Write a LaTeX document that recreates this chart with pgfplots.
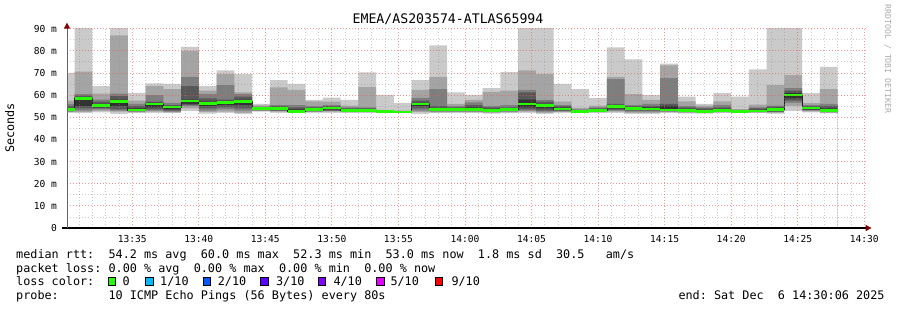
\documentclass[border=0pt]{standalone}
\usepackage{fontspec}
\setmainfont{DejaVu Sans Mono}
\usepackage{pgfplots}
\usepackage{pgfplotstable}
\pgfplotsset{compat=1.18}
\usetikzlibrary{arrows.meta}
\definecolor{c1}{HTML}{CACACA}
\definecolor{c2}{HTML}{A4A4A4}
\definecolor{c3}{HTML}{7E7E7E}
\definecolor{c4}{HTML}{585858}
\definecolor{c5}{HTML}{323232}
\definecolor{medline}{HTML}{202020}
\definecolor{yaxis}{HTML}{646464}
\definecolor{lc0}{HTML}{26FF00}
\definecolor{lc1}{HTML}{00B8FF}
\definecolor{lc2}{HTML}{0059FF}
\definecolor{lc3}{HTML}{5E00FF}
\definecolor{lc4}{HTML}{7E00FF}
\definecolor{lc5}{HTML}{DD00FF}
\definecolor{lc9}{HTML}{FF0000}
\definecolor{arrowred}{HTML}{7F0000}
\definecolor{gridgray}{HTML}{8F8F8F}
\definecolor{gridred}{HTML}{E25959}
\definecolor{wm}{HTML}{AAAAAA}
\newcommand\lf{\fontsize{11.8}{13}\selectfont}

\pgfplotstableread{
x      p1   p2   p3   p4   p5   p6   p7   p8   p9   p10  med
0.1    52   52.3 52.5 52.8 53   54   55   56   57.5 70   53.5
0.667  51.8 52.3 53   54   55   59   59.7 60.4 70.6 95   58.5
2.0    52.2 52.8 53.5 54   54.5 56   57   58   60.7 64   55.2
3.333  51.5 52.5 53   53.5 55   58   59.5 60.7 87   95   57
4.667  51.8 52.2 52.5 52.8 53   54   55   56   57.5 61   53.3
6.0    52   52.5 53   53.5 54.5 56.5 57   60   64   65.3 56
7.333  51.8 52.2 52.5 53   53.5 55   55.5 56.5 62.7 65   54.6
8.667  52.8 54   55   55.5 56   58   64   68.2 80   81.7 57.3
10.0   51.6 52.3 53   54   55   57   58.5 60.4 62   64   56.3
11.333 52   52.5 53.5 54.5 55.5 57   58   64.5 69.4 71.2 56.6
12.667 51.5 52   53   54   55.5 58   59.3 60.4 61.2 69.5 57
14.0   52.5 52.8 53   53.2 53.5 54.2 54.5 54.8 55.3 56   54
15.333 52   52.5 52.8 53   53.5 54.5 55   55.5 63.5 66.7 54
16.667 51.8 52   52.2 52.3 52.5 53.5 54.5 55.5 62.4 65   52.6
18.0   52   52.3 52.5 52.8 53   54   54.5 55   57.2 57.8 53.5
19.333 52   52.5 52.7 53   53.5 54.6 55   55.5 57   58.8 54.2
20.667 52   52.2 52.4 52.6 52.8 53.5 54   54.5 55.2 57.8 53.1
22.0   52   52.2 52.4 52.6 52.8 53.5 54   54.5 63.6 70.2 53
23.333 52   52.1 52.2 52.3 52.4 52.7 52.8 53   53.3 60.1 52.5
24.667 51.9 52   52.1 52.2 52.3 52.6 52.7 52.8 53   56.4 52.4
26.0   51.5 52.3 53   54   55   56.5 57.5 58.7 62.4 66.7 56
27.333 51.8 52.2 52.5 52.8 53   54   55   62.7 68.2 82.4 53.4
28.667 52   52.2 52.5 52.8 53   54   54.5 55   56   61.2 53.4
30.0   52   52.2 52.5 52.8 53   54.5 55.5 56.7 57.8 60.1 53.5
31.333 51.6 52   52.4 52.6 52.8 53.8 54.5 55   61.5 63.1 53
32.667 51.8 52.2 52.5 52.8 53   54   54.5 55.5 62   70.4 53.4
34.0   52   52.5 53   53.5 54.5 58   61.2 62.2 71.2 95   56
35.333 51.5 52   52.5 53   54   56   57   57.8 69.4 95   55.2
36.667 52   52.3 52.6 52.9 53.2 54.3 55   55.5 57   65   53.7
38.0   52   52.1 52.2 52.3 52.4 52.9 53.2 53.5 54.2 62.7 52.5
39.333 52   52.2 52.4 52.6 52.8 53.5 54   54.5 55.2 58.7 53
40.667 52   52.5 53   53.3 54   55.5 56   67.2 68.2 81.5 54.9
42.0   51.5 52   52.5 53   53.5 54.5 55   55.5 60.4 76.1 54
43.333 51.5 52   52.5 53   53.3 54.5 55   56   57.8 60   53.8
44.667 52   52.2 52.5 52.8 53   55   56   67.6 73.4 74.2 53.3
46.0   51.7 52   52.3 52.5 52.8 53.8 54.5 55   57.2 59.3 53.1
47.333 51.6 52   52.1 52.2 52.3 53.2 54   54.5 55.2 56   52.5
48.667 51.8 52.2 52.4 52.6 52.8 53.8 54.5 55.5 57.2 60.9 53.1
50.0   51.8 52.1 52.2 52.3 52.4 52.8 53   53.3 53.7 59.3 52.5
51.333 52   52.1 52.2 52.3 52.5 53.3 54   54.5 55.7 71.6 52.8
52.667 51.6 52   52.3 52.5 53   54.2 54.8 55.2 64.5 95   53.6
54.0   52.7 55   56.5 57.5 58.5 61   62   63.1 69   95   60
55.333 52.2 52.6 53   53.2 53.5 54.6 55   55.5 56.4 60.9 54.2
56.667 51.7 52   52.3 52.5 52.8 54   55   56   62.7 72.7 53.1
58.0   51.7 52   52.3 52.5 52.8 54   55   56   62.7 72.7 53.1
}\smoke

\begin{document}
\begin{tikzpicture}
\path[use as bounding box] (0,0) rectangle (897pt,-310pt);
\begin{axis}[
  at={(67pt,-228pt)}, anchor=south west,
  scale only axis, width=798.6pt, height=199.4pt,
  xmin=0.1, xmax=60.1, ymin=0, ymax=90,
  axis on top=true,
  no markers,
  axis x line=bottom, axis y line=left,
  x axis line style={draw=black, line width=1.1pt, shorten <=-5pt, shorten >=-6pt,
    -{Triangle[length=6pt,width=6pt,color=arrowred,fill=arrowred]}},
  y axis line style={draw=yaxis, line width=0.9pt, shorten >=-6pt,
    -{Triangle[length=6pt,width=6pt,color=arrowred,fill=arrowred]}},
  tick style={draw=none},
  xtick={5,10,...,60},
  xticklabels={13:35,13:40,13:45,13:50,13:55,14:00,14:05,14:10,14:15,14:20,14:25,14:30},
  minor xtick={1,2,3,4,6,7,8,9,11,12,13,14,16,17,18,19,21,22,23,24,26,27,28,29,31,32,33,34,36,37,38,39,41,42,43,44,46,47,48,49,51,52,53,54,56,57,58,59},
  ytick={0,10,...,90},
  yticklabels={0,10 m,20 m,30 m,40 m,50 m,60 m,70 m,80 m,90 m},
  minor ytick={5,15,...,85},
  grid=both,
  major grid style={draw=gridred, opacity=0.6, line width=0.8pt, dash pattern=on 1pt off 2pt},
  minor grid style={draw=gridgray, opacity=0.45, line width=0.8pt, dash pattern=on 1pt off 2pt},
  tick label style={font=\fontsize{9.6}{10}\selectfont, inner sep=0pt},
  x tick label style={anchor=base, yshift=-12.7pt},
  y tick label style={anchor=east, xshift=-7.7pt},
]
\addplot[const plot, fill=c1, draw=none] table[x=x,y=p10]{\smoke} \closedcycle;
\addplot[const plot, fill=c2, draw=none] table[x=x,y=p9]{\smoke} \closedcycle;
\addplot[const plot, fill=c3, draw=none] table[x=x,y=p8]{\smoke} \closedcycle;
\addplot[const plot, fill=c4, draw=none] table[x=x,y=p7]{\smoke} \closedcycle;
\addplot[const plot, fill=c5, draw=none] table[x=x,y=p6]{\smoke} \closedcycle;
\addplot[const plot, fill=c4, draw=none] table[x=x,y=p5]{\smoke} \closedcycle;
\addplot[const plot, fill=c3, draw=none] table[x=x,y=p4]{\smoke} \closedcycle;
\addplot[const plot, fill=c2, draw=none] table[x=x,y=p3]{\smoke} \closedcycle;
\addplot[const plot, fill=c1, draw=none] table[x=x,y=p2]{\smoke} \closedcycle;
\addplot[const plot, fill=white, draw=none] table[x=x,y=p1]{\smoke} \closedcycle;
\addplot[const plot, draw=medline, line width=0.8pt] table[x=x,y=med]{\smoke};
\addplot[jump mark left, draw=lc0, line width=2.6pt] table[x=x,y=med]{\smoke};
\end{axis}
\node[anchor=base, inner sep=0] at (448pt,-24pt) {\fontsize{13.2}{14}\selectfont EMEA/AS203574-ATLAS65994};
\node[rotate=90, anchor=base, inner sep=0] at (14pt,-128pt) {\lf Seconds};
\node[rotate=-90, anchor=base, inner sep=0, text=wm] at (885pt,-59pt) {\fontsize{8.2}{9}\selectfont RRDTOOL~/~TOBI~OETIKER};
\node[anchor=base west, inner sep=0] at (16pt,-258.3pt) {\lf median~rtt:~~54.2~ms~avg~~60.0~ms~max~~52.3~ms~min~~53.0~ms~now~~1.8~ms~sd~~30.5~~~am/s};
\node[anchor=base west, inner sep=0] at (16pt,-272pt) {\lf packet~loss:~0.00~\%~avg~~0.00~\%~max~~0.00~\%~min~~0.00~\%~now};
\node[anchor=base west, inner sep=0] at (16pt,-285.7pt) {\lf loss~color:};
\node[anchor=base west, inner sep=0] at (16pt,-299.7pt) {\lf probe:~~~~~~~10~ICMP~Echo~Pings~(56~Bytes)~every~80s};
\node[anchor=base west, inner sep=0] at (678.3pt,-299.7pt) {\lf end:~Sat~Dec~~6~14:30:06~2025};
\draw[fill=lc0, line width=0.6pt] (108.3pt,-285.7pt) rectangle (115.7pt,-277.7pt);
\draw[fill=lc1, line width=0.6pt] (145.7pt,-285.7pt) rectangle (153.1pt,-277.7pt);
\draw[fill=lc2, line width=0.6pt] (203.3pt,-285.7pt) rectangle (210.7pt,-277.7pt);
\draw[fill=lc3, line width=0.6pt] (260.7pt,-285.7pt) rectangle (268.1pt,-277.7pt);
\draw[fill=lc4, line width=0.6pt] (318.3pt,-285.7pt) rectangle (325.7pt,-277.7pt);
\draw[fill=lc5, line width=0.6pt] (376.7pt,-285.7pt) rectangle (384.1pt,-277.7pt);
\draw[fill=lc9, line width=0.6pt] (435.0pt,-285.7pt) rectangle (442.4pt,-277.7pt);
\node[anchor=base west, inner sep=0] at (122.5pt,-285.7pt) {\lf 0};
\node[anchor=base west, inner sep=0] at (160pt,-285.7pt) {\lf 1/10};
\node[anchor=base west, inner sep=0] at (217.6pt,-285.7pt) {\lf 2/10};
\node[anchor=base west, inner sep=0] at (275.9pt,-285.7pt) {\lf 3/10};
\node[anchor=base west, inner sep=0] at (333.3pt,-285.7pt) {\lf 4/10};
\node[anchor=base west, inner sep=0] at (390.3pt,-285.7pt) {\lf 5/10};
\node[anchor=base west, inner sep=0] at (451.3pt,-285.7pt) {\lf 9/10};
\end{tikzpicture}
\end{document}
